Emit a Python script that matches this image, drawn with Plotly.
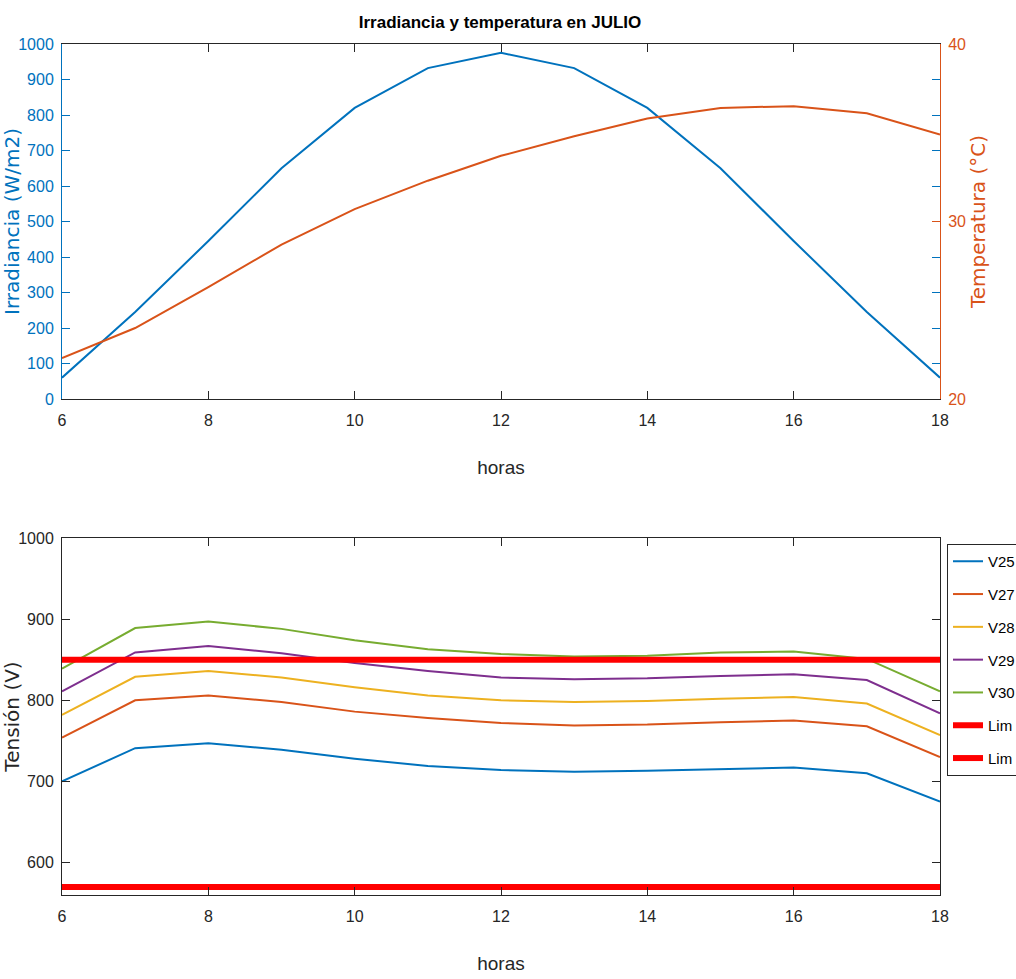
import plotly.graph_objects as go

horas = [6, 7, 8, 9, 10, 11, 12, 13, 14, 15, 16, 17, 18]
irradiancia = [60, 245, 445, 650, 820, 932, 975, 932, 820, 650, 445, 245, 60]
temperatura = [22.3, 24.0, 26.3, 28.7, 30.7, 32.3, 33.7, 34.8, 35.8, 36.4, 36.5, 36.1, 34.9]

V25 = [700, 741, 747, 739, 728, 719, 714, 712, 713, 715, 717, 710, 675]
V27 = [754, 800, 806, 798, 786, 778, 772, 769, 770, 773, 775, 768, 730]
V28 = [782, 829, 836, 828, 816, 806, 800, 798, 799, 802, 804, 796, 757]
V29 = [811, 859, 867, 858, 846, 836, 828, 826, 827, 830, 832, 825, 784]
V30 = [839, 889, 897, 888, 874, 863, 857, 854, 855, 859, 860, 851, 811]
lim_sup = [850] * len(horas)
lim_inf = [570] * len(horas)

series = [("V25", V25, "#0072BD"), ("V27", V27, "#D95319"), ("V28", V28, "#EDB120"),
          ("V29", V29, "#7E2F8E"), ("V30", V30, "#77AC30")]

NARROW = "Liberation Sans Narrow, Arial Narrow, Liberation Sans, Arial"
WIDE = "DejaVu Sans, Verdana, sans-serif"
DARK = "#262626"
BLUE = "#0072BD"
ORANGE = "#D95319"

W, H = 1016, 979
L_AX, R_AX = 62, 940
T_AX, B_AX = 44, 895
ml = L_AX
mr = W - R_AX
mt = T_AX
mb = H - B_AX
plot_w = W - ml - mr
plot_h = H - mt - mb

fig = go.Figure()

fig.add_trace(go.Scatter(x=horas, y=irradiancia, mode="lines", line=dict(color=BLUE, width=2),
                         xaxis="x", yaxis="y", showlegend=False))
fig.add_trace(go.Scatter(x=horas, y=temperatura, mode="lines", line=dict(color=ORANGE, width=2),
                         xaxis="x", yaxis="y2", showlegend=False))

for name, vals, col in series:
    fig.add_trace(go.Scatter(x=horas, y=vals, mode="lines", name=name, legendgroup=name,
                             line=dict(color=col, width=2), xaxis="x2", yaxis="y3"))
fig.add_trace(go.Scatter(x=horas, y=lim_sup, mode="lines", name="Lim", legendgroup="lim1",
                         line=dict(color="#FF0000", width=6), xaxis="x2", yaxis="y3"))
fig.add_trace(go.Scatter(x=horas, y=lim_inf, mode="lines", name="Lim", legendgroup="lim2",
                         line=dict(color="#FF0000", width=6), xaxis="x2", yaxis="y3"))

TF = 16
tickfont = dict(family=NARROW, size=TF, color=DARK)

common_x = dict(range=[6, 18], tickvals=[6, 8, 10, 12, 14, 16, 18], ticks="inside", ticklen=8,
                showline=True, linecolor=DARK, linewidth=1, mirror="ticks", showgrid=False,
                zeroline=False, tickfont=tickfont, tickcolor=DARK, ticklabelstandoff=7,
                title=dict(text="horas", font=dict(family=NARROW, size=19, color=DARK), standoff=32))

top_dom = [(B_AX - 399) / plot_h, 1.0]
bot_dom = [0.0, (B_AX - 538) / plot_h]

fig.update_layout(
    width=W, height=H,
    margin=dict(l=ml, r=mr, t=mt, b=mb, autoexpand=False),
    paper_bgcolor="white", plot_bgcolor="white",
    title=dict(text="<b>Irradiancia y temperatura en JULIO</b>", x=(500 - L_AX) / plot_w, xref="paper",
               y=1 - 22 / H, yref="container", xanchor="center", yanchor="middle",
               font=dict(family=NARROW, size=17, color="#000000")),
    xaxis=dict(domain=[0, 1], anchor="y", **common_x),
    yaxis=dict(domain=top_dom, range=[0, 1000], tickvals=list(range(0, 1001, 100)), ticks="inside",
               ticklen=8, showline=True, linecolor=BLUE, tickcolor=BLUE, linewidth=1, mirror="ticks",
               showgrid=False, zeroline=False, ticklabelstandoff=4,
               tickfont=dict(family=NARROW, size=TF, color=BLUE),
               title=dict(text="Irradiancia (W/m2)", font=dict(family=WIDE, size=20, color=BLUE), standoff=4)),
    yaxis2=dict(overlaying="y", side="right", anchor="x", range=[20, 40], tickvals=[20, 30, 40],
                ticks="inside", ticklen=8, showline=True, linecolor=ORANGE, tickcolor=ORANGE, linewidth=1,
                showgrid=False, zeroline=False, ticklabelstandoff=4,
                tickfont=dict(family=NARROW, size=TF, color=ORANGE),
                title=dict(text="Temperatura (°C)", font=dict(family=WIDE, size=20, color=ORANGE), standoff=0)),
    xaxis2=dict(domain=[0, 1], anchor="y3", **common_x),
    yaxis3=dict(domain=bot_dom, range=[560, 1000], tickvals=[600, 700, 800, 900, 1000], ticks="inside",
                ticklen=8, showline=True, linecolor=DARK, tickcolor=DARK, linewidth=1, mirror="ticks",
                showgrid=False, zeroline=False, ticklabelstandoff=4, anchor="x2",
                tickfont=tickfont,
                title=dict(text="Tensión (V)", font=dict(family=WIDE, size=20, color=DARK), standoff=4)),
    legend=dict(x=(947 - L_AX) / plot_w, xanchor="left", y=(B_AX - 544) / plot_h, yanchor="top",
                bgcolor="white", bordercolor=DARK, borderwidth=1, tracegroupgap=10.3,
                font=dict(family=NARROW, size=15, color="#000000"), itemwidth=30),
)

fig.write_html("out.html", config={"displayModeBar": False},
               post_script="document.body.style.margin='0';document.body.style.overflow='hidden';")
